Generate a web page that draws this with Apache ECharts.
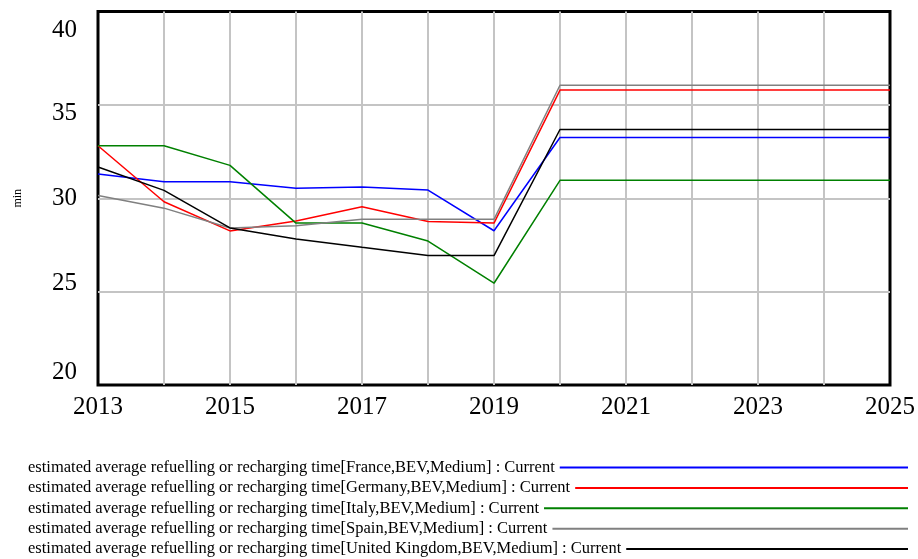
<!DOCTYPE html>
<html>
<head>
<meta charset="utf-8">
<script src="https://cdn.jsdelivr.net/npm/echarts@6/dist/echarts.min.js"></script>
<style>
  html, body { margin: 0; padding: 0; background: #fff; }
  #chart { width: 918px; height: 559px; }
</style>
</head>
<body>
<div id="chart"></div>
<script>
// Years on the time axis
const years = [2013, 2014, 2015, 2016, 2017, 2018, 2019, 2020, 2021, 2022, 2023, 2024, 2025];

// Estimated average refuelling or recharging time (min), BEV, Medium
const france  = [31.3, 30.88, 30.88, 30.53, 30.6, 30.44, 28.26, 33.25, 33.25, 33.25, 33.25, 33.25, 33.25];
const germany = [32.81, 29.81, 28.25, 28.78, 29.55, 28.76, 28.67, 35.79, 35.79, 35.79, 35.79, 35.79, 35.79];
const italy   = [32.81, 32.81, 31.76, 28.67, 28.67, 27.71, 25.45, 30.96, 30.96, 30.96, 30.96, 30.96, 30.96];
const spain   = [30.15, 29.47, 28.41, 28.53, 28.87, 28.87, 28.87, 36.05, 36.05, 36.05, 36.05, 36.05, 36.05];
const uk      = [31.67, 30.42, 28.41, 27.82, 27.37, 26.93, 26.93, 33.68, 33.68, 33.68, 33.68, 33.68, 33.68];

const seriesNames = [
  'estimated average refuelling or recharging time[France,BEV,Medium] : Current',
  'estimated average refuelling or recharging time[Germany,BEV,Medium] : Current',
  'estimated average refuelling or recharging time[Italy,BEV,Medium] : Current',
  'estimated average refuelling or recharging time[Spain,BEV,Medium] : Current',
  'estimated average refuelling or recharging time[United Kingdom,BEV,Medium] : Current'
];
const seriesValues = [france, germany, italy, spain, uk];
const seriesColors = ['#0000ff', '#ff0000', '#008000', '#808080', '#000000'];

const FONT = '"Liberation Serif", "Times New Roman", serif';
const LEGEND_FONT_SIZE = 16.5;

// Measure legend text so each key line runs from the text to a common right edge
const measureCtx = document.createElement('canvas').getContext('2d');
measureCtx.font = LEGEND_FONT_SIZE + 'px ' + FONT;
const legendLeft = 28, legendRightEdge = 911, legendGap = 8;

const legends = seriesNames.map((name, i) => {
  const tw = measureCtx.measureText(name).width;
  return {
    left: legendLeft,
    top: 458.5 + i * 20.4,
    padding: 0,
    align: 'right',
    orient: 'horizontal',
    selectedMode: false,
    itemWidth: Math.max(10, legendRightEdge - legendLeft - tw - legendGap),
    itemHeight: 2,
    icon: 'rect',
    data: [{ name: name, icon: 'rect' }],
    textStyle: { fontFamily: FONT, fontSize: LEGEND_FONT_SIZE, color: '#000', lineHeight: 18 }
  };
});

const gridLine = { show: true, showMinLine: false, showMaxLine: false, lineStyle: { color: '#c4c4c4', width: 2 } };

// Vertical nudges for the value labels on the left axis
const yLabelStyle = { fontFamily: FONT, fontSize: 25, color: '#000' };
const yLabelRich = {
  top: Object.assign({ padding: [6, 0, 0, 0] }, yLabelStyle),
  below: Object.assign({ padding: [18, 0, 0, 0] }, yLabelStyle),
  mid: Object.assign({}, yLabelStyle),
  above: Object.assign({ padding: [0, 0, 16, 0] }, yLabelStyle),
  base: Object.assign({}, yLabelStyle)
};
const yLabelKind = { 40: 'top', 35: 'below', 30: 'mid', 25: 'above', 20: 'base' };

const chart = echarts.init(document.getElementById('chart'), null, { renderer: 'canvas' });
chart.setOption({
  animation: false,
  backgroundColor: '#ffffff',
  grid: {
    left: 98, right: 27, top: 11.5, bottom: 174,
    show: true, borderColor: '#000', borderWidth: 3, backgroundColor: 'transparent'
  },
  legend: legends,
  xAxis: {
    type: 'value',
    min: 2013, max: 2025, interval: 1,
    axisLine: { show: false },
    axisTick: { show: false },
    splitLine: gridLine,
    axisLabel: {
      margin: 10,
      fontFamily: FONT, fontSize: 25, color: '#000',
      formatter: v => (v % 2 === 1 ? String(v) : '')
    }
  },
  yAxis: {
    type: 'value',
    min: 20, max: 40, interval: 5,
    name: 'min',
    nameLocation: 'middle',
    nameGap: 74,
    nameTextStyle: { fontFamily: FONT, fontSize: 12, color: '#000' },
    axisLine: { show: false },
    axisTick: { show: false },
    splitLine: gridLine,
    axisLabel: {
      margin: 21,
      fontFamily: FONT, fontSize: 25, color: '#000',
      verticalAlignMinLabel: 'bottom',
      verticalAlignMaxLabel: 'top',
      rich: yLabelRich,
      formatter: v => '{' + (yLabelKind[v] || 'mid') + '|' + v + '}'
    }
  },
  series: seriesNames.map((name, i) => ({
    name: name,
    type: 'line',
    data: years.map((y, k) => [y, seriesValues[i][k]]),
    showSymbol: false,
    symbol: 'none',
    color: seriesColors[i],
    lineStyle: { color: seriesColors[i], width: 1.5 },
    z: 3 + i
  }))
});
</script>
</body>
</html>
